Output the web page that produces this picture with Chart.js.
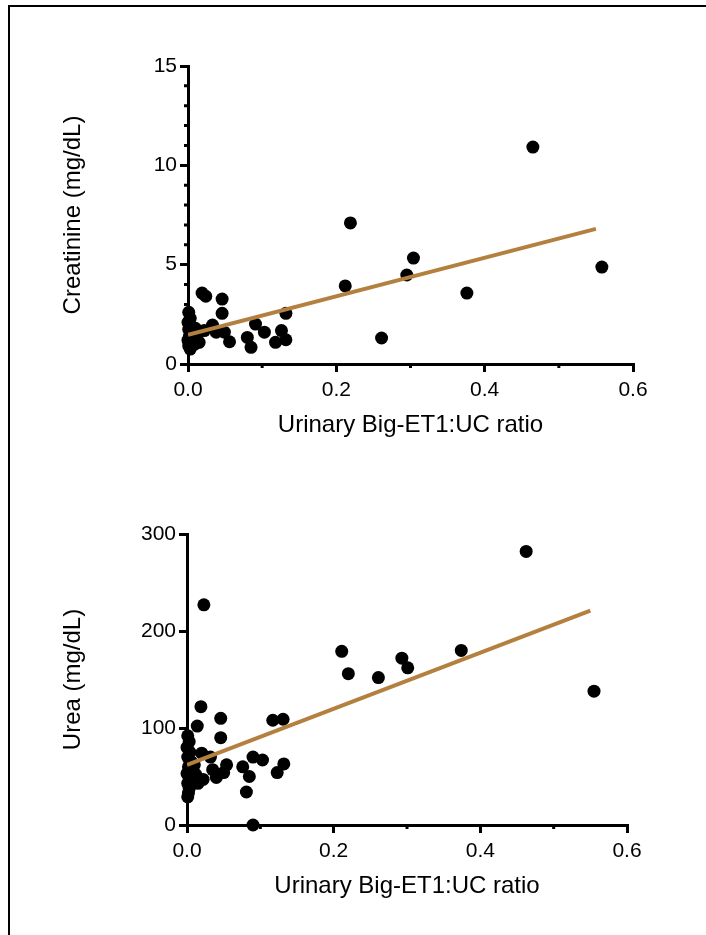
<!DOCTYPE html>
<html lang="en">
<head>
    <meta charset="UTF-8">
    <title>Big-ET1 vs renal markers</title>
    <script src="https://cdn.jsdelivr.net/npm/chart.js"></script>
    <style>
        body { margin: 0; background: #fff; overflow: hidden; }
        .page { position: relative; width: 706px; height: 935px; overflow: hidden; }
        .frame {
            position: absolute; left: 8px; top: 5px; width: 698px; height: 930px;
            border-left: 2px solid #000; border-top: 2px solid #000;
        }
        canvas { position: absolute; left: 0; }
        #creatChart { top: 0; }
        #ureaChart { top: 464px; }
    </style>
</head>
<body>
<div class="page">
    <div class="frame"></div>
    <canvas id="creatChart" width="706" height="464"></canvas>
    <canvas id="ureaChart" width="706" height="461"></canvas>
</div>
<script>
    // Urinary Big-ET1:UC ratio vs serum creatinine (mg/dL)
    const creatX = [0.465, 0.219, 0.304, 0.558, 0.295, 0.212, 0.376, 0.261,
        0.019, 0.024, 0.046, 0.046, 0.132, 0.091, 0.103, 0.126, 0.132, 0.118, 0.080, 0.085,
        0.056, 0.049, 0.038, 0.033, 0.022, 0.015,
        0.001, 0.003, 0.000, 0.004, 0.001, 0.006, 0.002, 0.008, 0.000, 0.004, 0.001, 0.003,
        0.010, 0.012, 0.009];
    const creatY = [10.92, 7.10, 5.33, 4.88, 4.48, 3.93, 3.57, 1.31,
        3.57, 3.41, 3.27, 2.55, 2.55, 2.01, 1.60, 1.68, 1.22, 1.09, 1.34, 0.84,
        1.12, 1.60, 1.60, 1.96, 1.68, 1.09,
        2.60, 2.30, 2.10, 1.90, 1.75, 1.55, 1.40, 1.30, 1.20, 1.05, 0.90, 0.75,
        1.80, 1.45, 1.00];

    // Urinary Big-ET1:UC ratio vs serum urea (mg/dL)
    const ureaX = [0.4625, 0.023, 0.211, 0.374, 0.293, 0.301, 0.220, 0.261, 0.555,
        0.019, 0.046, 0.014, 0.117, 0.131, 0.046, 0.020, 0.032, 0.090, 0.103, 0.054, 0.132,
        0.076, 0.050, 0.035, 0.040, 0.085, 0.123, 0.022, 0.015, 0.081, 0.090,
        0.001, 0.003, 0.000, 0.004, 0.001, 0.006, 0.002, 0.008, 0.000, 0.004, 0.001, 0.003,
        0.002, 0.001, 0.010, 0.012];
    const ureaY = [282, 227, 179, 180, 172, 162, 156, 152, 138,
        122, 110, 102, 108, 109, 90, 74, 70, 70, 67, 62, 63,
        60, 54, 57, 49, 50, 54, 47, 43, 34, 0,
        92, 86, 80, 75, 70, 65, 60, 57, 53, 48, 43, 38,
        33, 29, 62, 52];

    // linear fit end points
    const fitX = [0, 0.55];
    const creatFit = [1.47, 6.80];
    const ureaFit = [62, 221];

    // axis ticks
    const xMajor = [0, 0.2, 0.4, 0.6];
    const xMinor = [0.1, 0.3, 0.5];
    const creatMinor = [1, 2, 3, 4, 6, 7, 8, 9, 11, 12, 13, 14];
    const ureaMinor = [];

    const fitColor = 'rgb(180, 128, 64)';
    const axisWidth = 3;

    Chart.defaults.font.family = "'Liberation Sans', Arial, sans-serif";
    Chart.defaults.color = '#000';

    const toPoints = (xs, ys) => xs.map((x, i) => ({ x: x, y: ys[i] }));

    // short unlabelled ticks between the major ones
    const minorTicks = {
        id: 'minorTicks',
        beforeDatasetsDraw(chart, args, opts) {
            const ctx = chart.ctx;
            const xs = chart.scales.x, ys = chart.scales.y;
            ctx.save();
            ctx.strokeStyle = '#000';
            ctx.lineWidth = axisWidth;
            ctx.beginPath();
            (opts.x || []).forEach(v => {
                const px = xs.getPixelForValue(v);
                ctx.moveTo(px, xs.top);
                ctx.lineTo(px, xs.top + 4);
            });
            (opts.y || []).forEach(v => {
                const py = ys.getPixelForValue(v);
                ctx.moveTo(ys.right, py);
                ctx.lineTo(ys.right - 4, py);
            });
            ctx.stroke();
            ctx.restore();
        }
    };

    function makeChart(id, cfg) {
        return new Chart(document.getElementById(id), {
            type: 'scatter',
            data: {
                datasets: [{
                    data: toPoints(fitX, cfg.fit),
                    showLine: true,
                    borderColor: fitColor,
                    borderWidth: 4,
                    pointRadius: 0,
                    order: 0
                }, {
                    data: toPoints(cfg.xs, cfg.ys),
                    backgroundColor: '#000',
                    borderWidth: 0,
                    pointRadius: 6.5,
                    clip: false,
                    order: 1
                }]
            },
            options: {
                responsive: false,
                animation: false,
                layout: { padding: cfg.padding },
                plugins: {
                    legend: { display: false },
                    tooltip: { enabled: false },
                    minorTicks: { x: xMinor, y: cfg.yMinor }
                },
                scales: {
                    x: {
                        type: 'linear',
                        min: 0,
                        max: 0.6,
                        afterBuildTicks: s => { s.ticks = xMajor.map(v => ({ value: v })); },
                        afterFit: s => { s.height = 100; },
                        grid: { drawOnChartArea: false, tickLength: 8, lineWidth: axisWidth, color: '#000' },
                        border: { color: '#000', width: axisWidth },
                        ticks: {
                            padding: 6,
                            font: { size: 21 },
                            callback: v => Number(v).toFixed(1)
                        },
                        title: {
                            display: true,
                            text: 'Urinary Big-ET1:UC ratio',
                            font: { size: 24 },
                            padding: { top: 0, bottom: 24 }
                        }
                    },
                    y: {
                        min: 0,
                        max: cfg.yMax,
                        ticks: { stepSize: cfg.yStep, padding: 3, font: { size: 21 } },
                        afterFit: s => { s.width = cfg.yWidth; },
                        grid: { drawOnChartArea: false, tickLength: 8, lineWidth: axisWidth, color: '#000' },
                        border: { color: '#000', width: axisWidth },
                        title: {
                            display: true,
                            text: cfg.yTitle,
                            font: { size: 24 },
                            padding: { top: 59, bottom: 0 }
                        }
                    }
                }
            },
            plugins: [minorTicks]
        });
    }

    makeChart('creatChart', {
        xs: creatX, ys: creatY, fit: creatFit,
        yMax: 15, yStep: 5, yMinor: creatMinor,
        yTitle: 'Creatinine (mg/dL)',
        yWidth: 188,
        padding: { left: 0, top: 66, right: 73, bottom: 0 }
    });

    makeChart('ureaChart', {
        xs: ureaX, ys: ureaY, fit: ureaFit,
        yMax: 300, yStep: 100, yMinor: ureaMinor,
        yTitle: 'Urea (mg/dL)',
        yWidth: 187,
        padding: { left: 0, top: 70, right: 79, bottom: 0 }
    });
</script>
</body>
</html>
